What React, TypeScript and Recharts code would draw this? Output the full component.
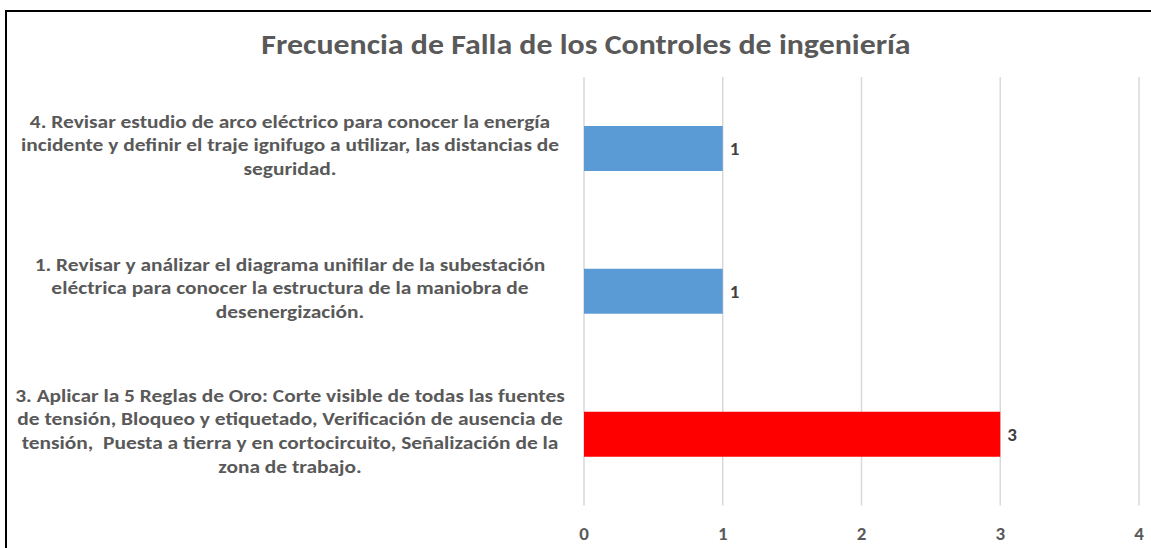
import React from 'react';
import { BarChart, Bar, XAxis, YAxis, CartesianGrid, Cell, LabelList } from 'recharts';

// Category labels, already broken into the lines shown in the original chart
const categories = [
  '4. Revisar estudio de arco eléctrico para conocer la energía\nincidente y definir el traje ignifugo a utilizar, las distancias de\nseguridad.',
  '1. Revisar y análizar el diagrama unifilar de la subestación\neléctrica para conocer la estructura de la maniobra de\ndesenergización.',
  '3. Aplicar la 5 Reglas de Oro: Corte visible de todas las fuentes\nde tensión, Bloqueo y etiquetado, Verificación de ausencia de\ntensión,  Puesta a tierra y en cortocircuito, Señalización de la\nzona de trabajo.',
];
const frecuencias = [1, 1, 3];
const barColors = ['#5B9BD5', '#5B9BD5', '#FF0000'];
const xTicks = [0, 1, 2, 3, 4];

const data = categories.map((name, i) => ({ name, value: frecuencias[i] }));

const FONT = "Carlito, Lato, 'Open Sans', sans-serif";
const LABEL_CX = 290;
const STRETCH = 1.19; // the source picture is slightly wider than tall

const CategoryTick = (props: any) => {
  const { y, payload } = props;
  const lines: string[] = String(payload.value).split('\n');
  const lineH = 23.7;
  const startY = y - ((lines.length - 1) * lineH) / 2 + 3;
  return (
    <g transform={`translate(${LABEL_CX},0) scale(${STRETCH},1)`}>
      <text
        x={0}
        y={startY}
        textAnchor="middle"
        fill="#595959"
        fontSize={18}
        fontWeight="bold"
        fontFamily={FONT}
      >
        {lines.map((l, i) => (
          <tspan key={i} x={0} y={startY + i * lineH} style={{ whiteSpace: 'pre' }}>
            {l}
          </tspan>
        ))}
      </text>
    </g>
  );
};

export default function App() {
  return (
    <div style={{ position: 'absolute', left: 0, top: 0, width: 1151, height: 548, overflow: 'hidden', background: '#fff' }}>
      <div
        style={{
          position: 'absolute', left: 5, top: 10, width: 1300, height: 700,
          borderLeft: '2px solid #000', borderTop: '2px solid #000',
        }}
      />
      <div
        style={{
          position: 'absolute', left: 0, top: 27, width: 1172, textAlign: 'center',
          fontFamily: FONT, fontSize: 29, fontWeight: 'bold', color: '#595959', lineHeight: '34px',
          transform: 'scaleX(1.1)', transformOrigin: '586px 0',
        }}
      >
        Frecuencia de Falla de los Controles de ingeniería
      </div>
      <div style={{ position: 'absolute', left: 0, top: 0 }}>
        <BarChart
          width={1151}
          height={548}
          data={data}
          layout="vertical"
          margin={{ top: 77, right: 12, bottom: 0, left: 0 }}
        >
          <CartesianGrid horizontal={false} vertical={true} stroke="#D9D9D9" strokeWidth={1.5} />
          <XAxis
            type="number"
            domain={[0, 4]}
            ticks={xTicks}
            axisLine={false}
            tickLine={false}
            height={42.5}
            tickMargin={15}
            tick={{ fill: '#595959', fontSize: 19, fontWeight: 'bold', fontFamily: FONT }}
          />
          <YAxis
            type="category"
            dataKey="name"
            width={584}
            axisLine={false}
            tickLine={false}
            tick={<CategoryTick />}
            interval={0}
          />
          <Bar dataKey="value" barSize={45} isAnimationActive={false}>
            {data.map((_, i) => (
              <Cell key={`cell-${i}`} fill={barColors[i]} />
            ))}
            <LabelList
              dataKey="value"
              position="right"
              offset={7}
              fill="#404040"
              fontSize={19}
              fontWeight="bold"
              fontFamily={FONT}
            />
          </Bar>
        </BarChart>
      </div>
    </div>
  );
}
